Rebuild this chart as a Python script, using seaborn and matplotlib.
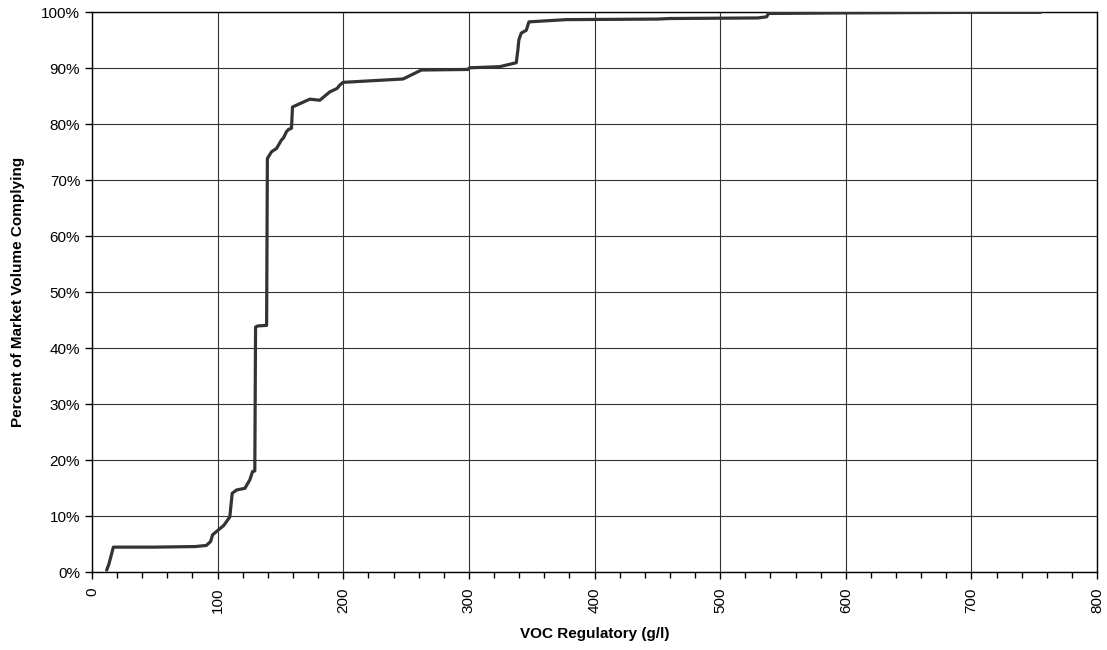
import numpy as np
import pandas as pd
import seaborn as sns
import matplotlib
matplotlib.use("Agg")
import matplotlib.pyplot as plt
from matplotlib.ticker import MultipleLocator, PercentFormatter

# VOC limit (g/l) vs cumulative share of market volume complying (%)
voc = [11.7, 13.5, 17.0, 50.0, 82.0, 91.0, 94.4, 96.0, 99.7, 105.0, 109.7, 111.6,
       115.0, 121.7, 125.6, 127.8, 129.6, 130.2, 132.0, 139.0, 139.6, 142.9, 146.9,
       150.8, 152.5, 154.8, 156.5, 158.8, 159.6, 173.4, 181.3, 189.3, 195.0, 197.2,
       199.9, 247.6, 262.2, 299.3, 300.6, 324.5, 337.7, 339.0, 339.8, 341.7, 345.7,
       347.8, 377.5, 450.0, 460.0, 530.0, 537.0, 538.5, 600.0, 700.0, 755.0]
pct = [0.4, 1.5, 4.5, 4.5, 4.6, 4.8, 5.5, 6.7, 7.4, 8.4, 9.9, 14.1,
       14.7, 15.0, 16.5, 18.0, 18.1, 43.8, 44.0, 44.1, 73.9, 75.1, 75.7,
       77.2, 77.6, 78.7, 79.1, 79.3, 83.1, 84.5, 84.3, 85.8, 86.4, 87.0,
       87.5, 88.1, 89.7, 89.8, 90.1, 90.3, 91.0, 93.3, 95.1, 96.3, 96.8,
       98.3, 98.7, 98.8, 98.9, 99.0, 99.2, 99.8, 99.9, 100.0, 100.0]

df = pd.DataFrame({"voc": voc, "pct": pct})

sns.set_style("white")
plt.rcParams['font.family'] = ['Liberation Sans', 'DejaVu Sans']
plt.rcParams['text.color'] = 'black'
plt.rcParams['axes.labelcolor'] = 'black'
plt.rcParams['xtick.color'] = 'black'
plt.rcParams['ytick.color'] = 'black'

fig = plt.figure(figsize=(11.07, 6.5), dpi=100)
ax = fig.add_axes([0.0831, 0.1195, 0.9079, 0.8615])

sns.lineplot(data=df, x="voc", y="pct", sort=False, estimator=None,
             color="#333333", linewidth=2.3, ax=ax, zorder=3)

ax.set_xlim(0, 800)
ax.set_ylim(0, 100)
ax.xaxis.set_major_locator(MultipleLocator(100))
ax.xaxis.set_minor_locator(MultipleLocator(20))
ax.yaxis.set_major_locator(MultipleLocator(10))
ax.yaxis.set_major_formatter(PercentFormatter(100, decimals=0))

ax.grid(True, which="major", color="#333333", linewidth=0.8)
for s in ax.spines.values():
    s.set_color("black")
    s.set_linewidth(1.0)

ax.tick_params(axis="x", which="major", direction="out", length=5, width=1,
               color="black", labelcolor="black", labelsize=11,
               labelrotation=90, pad=6, bottom=True)
ax.tick_params(axis="x", which="minor", direction="out", length=4, width=1,
               color="black", bottom=True)
ax.tick_params(axis="y", which="major", direction="out", length=5, width=1,
               color="black", labelcolor="black", labelsize=11, left=True)

ax.set_xlabel("VOC Regulatory (g/l)", fontsize=11, fontweight="bold",
              labelpad=10, color="black")
ax.set_ylabel("Percent of Market Volume Complying", fontsize=11,
              fontweight="bold", labelpad=12, color="black")

fig.savefig("out.png", dpi=100)
